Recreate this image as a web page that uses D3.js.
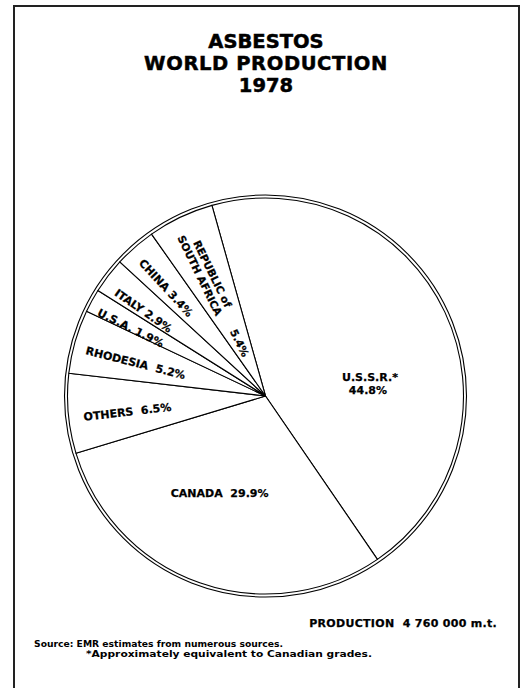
<!DOCTYPE html>
<html>
<head>
<meta charset="utf-8">
<title>Asbestos world production 1978</title>
<script src="https://cdn.jsdelivr.net/npm/d3@7"></script>
<style>
  body { margin: 0; background: #fff; }
  text { font-family: "DejaVu Sans", sans-serif; font-weight: bold; fill: #000; }
</style>
</head>
<body>
<script>
// values, order is clockwise from U.S.S.R.
var countries = ["U.S.S.R.*", "CANADA", "OTHERS", "RHODESIA", "U.S.A.", "ITALY", "CHINA", "REPUBLIC of|SOUTH AFRICA"];
var shares = [44.8, 29.9, 6.5, 5.2, 1.9, 2.9, 3.4, 5.4];
var titleLines = ["ASBESTOS", "WORLD PRODUCTION", "1978"];
var total = "PRODUCTION  4 760 000 m.t.";
var notes = ["Source: EMR estimates from numerous sources.", "*Approximately equivalent to Canadian grades."];

var W = 526, H = 688;
var cx = 265.5, cy = 396, R = 198;

var svg = d3.select("body").append("svg")
    .attr("width", W)
    .attr("height", H);

// frame
svg.append("rect")
    .attr("x", 14).attr("y", 6)
    .attr("width", 505).attr("height", 700)
    .attr("fill", "none")
    .attr("stroke", "#222")
    .attr("stroke-width", 2);

// title
svg.selectAll(".title").data(titleLines).enter().append("text")
    .attr("class", "title")
    .attr("x", 266)
    .attr("y", function (d, i) { return 48 + i * 22; })
    .attr("text-anchor", "middle")
    .attr("font-size", 19.5)
    .attr("letter-spacing", function (d, i) { return i === 1 ? 0.6 : 0; })
    .attr("stroke", "#000").attr("stroke-width", 0.5)
    .style("white-space", "pre")
    .text(function (d) { return d; });

var deg = Math.PI / 180;
var pie = d3.pie().sort(null).value(function (d) { return d; })
    .startAngle(-15.7 * deg).endAngle(344.3 * deg);
var arcs = pie(shares);
var arc = d3.arc().innerRadius(0).outerRadius(R);

var g = svg.append("g").attr("transform", "translate(" + cx + "," + cy + ")");

g.selectAll("path").data(arcs).enter().append("path")
    .attr("d", arc)
    .attr("fill", "#fff")
    .attr("stroke", "#000")
    .attr("stroke-width", 1.1)
    .attr("stroke-linejoin", "round");

// double rim
g.append("circle")
    .attr("r", R + 3)
    .attr("fill", "none")
    .attr("stroke", "#000")
    .attr("stroke-width", 1.1);

// label placement (radius of text centre along slice bisector, angle nudge)
var labelR = [105, 107, 139, 134, 151, 149, 147, 137];
var labelNudge = [19, 6, -1.5, -1.7, -2, -2.5, -1.4, -0.7];
var rotated = [false, false, true, true, true, true, true, true];

function pct(v) { return v.toFixed(1) + "%"; }

function lbl(sel, size) {
    return sel.append("text").attr("text-anchor", "middle").attr("font-size", size)
        .attr("dy", "0.35em").attr("stroke", "#000").attr("stroke-width", 0.25)
        .style("white-space", "pre");
}

arcs.forEach(function (a, i) {
    var mid = (a.startAngle + a.endAngle) / 2 / deg + labelNudge[i];
    var r = labelR[i];
    var x = r * Math.sin(mid * deg), y = -r * Math.cos(mid * deg);
    var t = g.append("g").attr("transform", "translate(" + x + "," + y + ")" +
        (rotated[i] ? " rotate(" + (mid - 270) + ")" : ""));
    var name = countries[i];
    if (i === 0) {
        lbl(t, 11).attr("y", -8).text(name);
        lbl(t, 11).attr("y", 5).attr("x", -2).text(pct(shares[i]));
    } else if (name.indexOf("|") >= 0) {
        var parts = name.split("|");
        lbl(t, 10.5).attr("y", -6).attr("x", 4).text(parts[0]);
        lbl(t, 10.5).attr("y", 6).text(parts[1]);
        // percentage sits further in
        var r2 = 59;
        var p = g.append("g").attr("transform", "translate(" + (r2 * Math.sin(mid * deg)) + "," +
            (-r2 * Math.cos(mid * deg)) + ") rotate(" + (mid - 270) + ")");
        lbl(p, 10.5).text(pct(shares[i]));
    } else {
        var gap = (i <= 3) ? "  " : " ";
        lbl(t, 11).text(name + gap + pct(shares[i]));
    }
});

// footer
svg.append("text")
    .attr("x", 497).attr("y", 627)
    .attr("text-anchor", "end")
    .attr("font-size", 11)
    .attr("letter-spacing", 0.3)
    .attr("stroke", "#000").attr("stroke-width", 0.25)
    .style("white-space", "pre")
    .text(total);

svg.append("text")
    .attr("x", 34).attr("y", 647)
    .attr("font-size", 9.5)
    .attr("textLength", 249)
    .attr("lengthAdjust", "spacingAndGlyphs")
    .text(notes[0]);
svg.append("text")
    .attr("x", 86).attr("y", 657)
    .attr("font-size", 9.5)
    .attr("textLength", 286)
    .attr("lengthAdjust", "spacingAndGlyphs")
    .text(notes[1]);
</script>
</body>
</html>
